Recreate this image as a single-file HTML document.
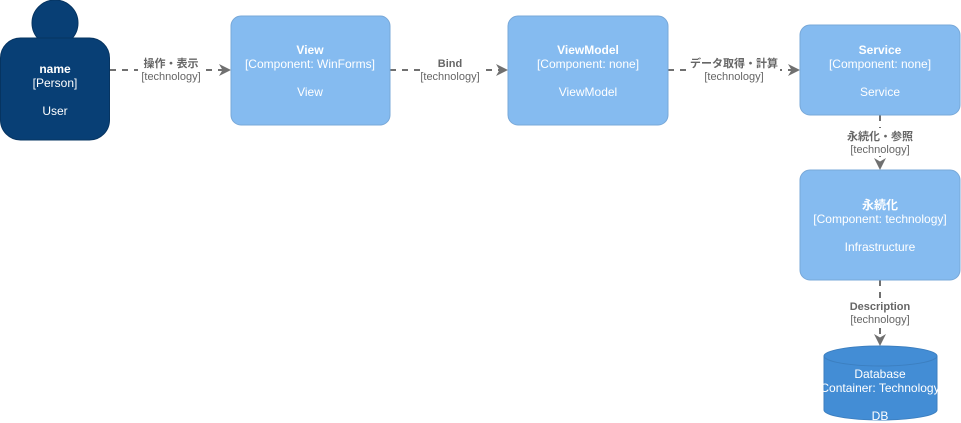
<!DOCTYPE html>
<html><head><meta charset="utf-8"><style>
html,body{margin:0;padding:0;background:#fff;}
svg{display:block;}
text{font-family:"Liberation Sans","Noto Sans CJK JP",sans-serif;font-size:11px;}
.w text{font-size:12px;}
.w{fill:#fff;}
.b{font-weight:bold;}
.l{fill:#666;}
</style></head><body>
<svg width="961" height="423" viewBox="0 0 961 423">
<defs><marker id="a" markerWidth="12" markerHeight="12" refX="10" refY="6" orient="auto" markerUnits="userSpaceOnUse"><path d="M0,0 L12,6 L0,12 L3.5,6 Z" fill="#707070"/></marker></defs>
<g stroke="#707070" stroke-width="2" stroke-dasharray="6,6" fill="none">
<line x1="110" y1="70" x2="229" y2="70" marker-end="url(#a)"/>
<line x1="390" y1="70" x2="506" y2="70" marker-end="url(#a)"/>
<line x1="668" y1="70" x2="798" y2="70" marker-end="url(#a)"/>
<line x1="880" y1="115" x2="880" y2="168" marker-end="url(#a)"/>
<line x1="880" y1="280" x2="880" y2="344" marker-end="url(#a)"/>
</g>
<g fill="#fff">
<rect x="138" y="57" width="66" height="28"/>
<rect x="420" y="57" width="60" height="28"/>
<rect x="688" y="57" width="92" height="28"/>
<rect x="840" y="128" width="80" height="28"/>
<rect x="845" y="298" width="70" height="28"/>
</g>
<g class="l" text-anchor="middle">
<text x="171" y="67" class="b">操作・表示</text><text x="171" y="80">[technology]</text>
<text x="450" y="67" class="b">Bind</text><text x="450" y="80">[technology]</text>
<text x="734" y="67" class="b">データ取得・計算</text><text x="734" y="80">[technology]</text>
<text x="880" y="140" class="b">永続化・参照</text><text x="880" y="153">[technology]</text>
<text x="880" y="310" class="b">Description</text><text x="880" y="323">[technology]</text>
</g>
<circle cx="55" cy="23" r="23" fill="#083f75" stroke="#063461"/>
<rect x="0.5" y="38" width="109" height="102" rx="20" fill="#083f75" stroke="#063461"/>
<g fill="#85bbf0" stroke="#78a8d8">
<rect x="231" y="16" width="159" height="109" rx="10"/>
<rect x="508" y="16" width="160" height="109" rx="10"/>
<rect x="800" y="25" width="160" height="90" rx="10"/>
<rect x="800" y="170" width="160" height="110" rx="10"/>
</g>
<path d="M824,356 L824,410 A56.5,10 0 0 0 937,410 L937,356 A56.5,10 0 0 0 824,356 Z" fill="#438dd5" stroke="#3c7fc0"/>
<path d="M824,356 A56.5,10 0 0 0 937,356" fill="none" stroke="#3c7fc0"/>
<g class="w" text-anchor="middle">
<text x="55" y="73" class="b">name</text><text x="55" y="87">[Person]</text><text x="55" y="115">User</text>
<text x="310" y="54" class="b">View</text><text x="310" y="68">[Component: WinForms]</text><text x="310" y="96">View</text>
<text x="588" y="54" class="b">ViewModel</text><text x="588" y="68">[Component: none]</text><text x="588" y="96">ViewModel</text>
<text x="880" y="54" class="b">Service</text><text x="880" y="68">[Component: none]</text><text x="880" y="96">Service</text>
<text x="880" y="209" class="b">永続化</text><text x="880" y="223">[Component: technology]</text><text x="880" y="251">Infrastructure</text>
<text x="880" y="378">Database</text><text x="880" y="392">Container: Technology</text><text x="880" y="420">DB</text>
</g>
</svg>
</body></html>
